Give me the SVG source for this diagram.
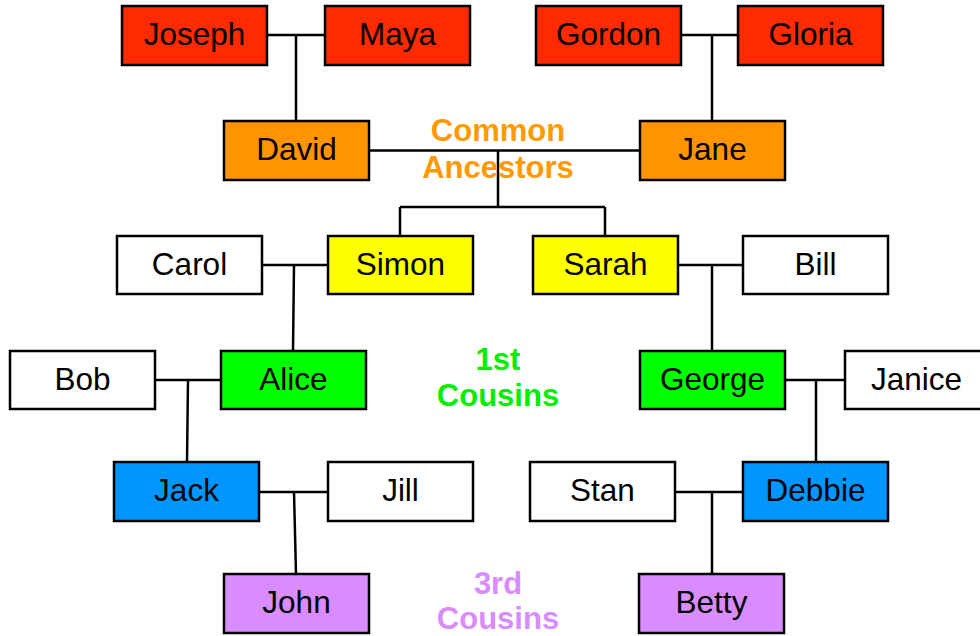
<svg xmlns="http://www.w3.org/2000/svg" width="980" height="636" viewBox="0 0 980 636">
<style>
.box{stroke:#000;stroke-width:2.5}
.red{fill:#ff2a00}.org{fill:#ff9400}.yel{fill:#ffff00}.grn{fill:#00ff00}.blu{fill:#0096ff}.pur{fill:#d98cff}.wht{fill:#fff}
.nm{font-family:"Liberation Sans",Arial,sans-serif;font-size:31.5px;fill:#000;text-anchor:middle}
.lbl{font-family:"Liberation Sans",Arial,sans-serif;font-size:31px;font-weight:bold;text-anchor:middle}
.ln{stroke:#000;stroke-width:2.5;fill:none}
</style>
<rect width="980" height="636" fill="#fff"/>
<g id="connectors" class="ln">
<path d="M267 35H325M296 35V121"/>
<path d="M681 35H738M712 35V121"/>
<path d="M369 150.5H640M498 150.5V207M400 207H605M400 207V236M605 207V236"/>
<path d="M262 265H328M294 265L293 351"/>
<path d="M678 265H743M712 265V351"/>
<path d="M155 380H221M188 380L187 462"/>
<path d="M785 380H845M816 380V462"/>
<path d="M259 492H328M294 492L296 574"/>
<path d="M675 492H743M712 492V574"/>
</g>
<g id="label-common">
<text class="lbl" x="498" y="141" fill="#ff9900">Common</text>
<text class="lbl" x="498" y="178" fill="#ff9900">Ancestors</text>
</g>
<g id="label-1st">
<text class="lbl" x="498" y="370" fill="#00ee00">1st</text>
<text class="lbl" x="498" y="406" fill="#00ee00">Cousins</text>
</g>
<g id="label-3rd">
<text class="lbl" x="498" y="594" fill="#d98cff">3rd</text>
<text class="lbl" x="498" y="629" fill="#d98cff">Cousins</text>
</g>
<g id="joseph"><rect class="box red" x="122" y="6" width="145" height="59"/><text class="nm" x="194.5" y="45">Joseph</text></g>
<g id="maya"><rect class="box red" x="325" y="6" width="145" height="59"/><text class="nm" x="397.5" y="45">Maya</text></g>
<g id="gordon"><rect class="box red" x="536" y="6" width="145" height="59"/><text class="nm" x="608.5" y="45">Gordon</text></g>
<g id="gloria"><rect class="box red" x="738" y="6" width="145" height="59"/><text class="nm" x="810.5" y="45">Gloria</text></g>
<g id="david"><rect class="box org" x="224" y="121" width="145" height="59"/><text class="nm" x="296.5" y="160">David</text></g>
<g id="jane"><rect class="box org" x="640" y="121" width="145" height="59"/><text class="nm" x="712.5" y="160">Jane</text></g>
<g id="carol"><rect class="box wht" x="117" y="236" width="145" height="58"/><text class="nm" x="189.5" y="274.5">Carol</text></g>
<g id="simon"><rect class="box yel" x="328" y="236" width="145" height="58"/><text class="nm" x="400.5" y="274.5">Simon</text></g>
<g id="sarah"><rect class="box yel" x="533" y="236" width="145" height="58"/><text class="nm" x="605.5" y="274.5">Sarah</text></g>
<g id="bill"><rect class="box wht" x="743" y="236" width="145" height="58"/><text class="nm" x="815.5" y="274.5">Bill</text></g>
<g id="bob"><rect class="box wht" x="10" y="351" width="145" height="58"/><text class="nm" x="82.5" y="389.5">Bob</text></g>
<g id="alice"><rect class="box grn" x="221" y="351" width="145" height="58"/><text class="nm" x="293.5" y="389.5">Alice</text></g>
<g id="george"><rect class="box grn" x="640" y="351" width="145" height="58"/><text class="nm" x="712.5" y="389.5">George</text></g>
<g id="janice"><rect class="box wht" x="845" y="351" width="145" height="58"/><text class="nm" x="916.5" y="389.5">Janice</text></g>
<g id="jack"><rect class="box blu" x="114" y="462" width="145" height="59"/><text class="nm" x="186.5" y="501">Jack</text></g>
<g id="jill"><rect class="box wht" x="328" y="462" width="145" height="59"/><text class="nm" x="400.5" y="501">Jill</text></g>
<g id="stan"><rect class="box wht" x="530" y="462" width="145" height="59"/><text class="nm" x="602.5" y="501">Stan</text></g>
<g id="debbie"><rect class="box blu" x="743" y="462" width="145" height="59"/><text class="nm" x="815.5" y="501">Debbie</text></g>
<g id="john"><rect class="box pur" x="224" y="574" width="145" height="59"/><text class="nm" x="296.5" y="613">John</text></g>
<g id="betty"><rect class="box pur" x="639" y="574" width="145" height="59"/><text class="nm" x="711.5" y="613">Betty</text></g>
</svg>
